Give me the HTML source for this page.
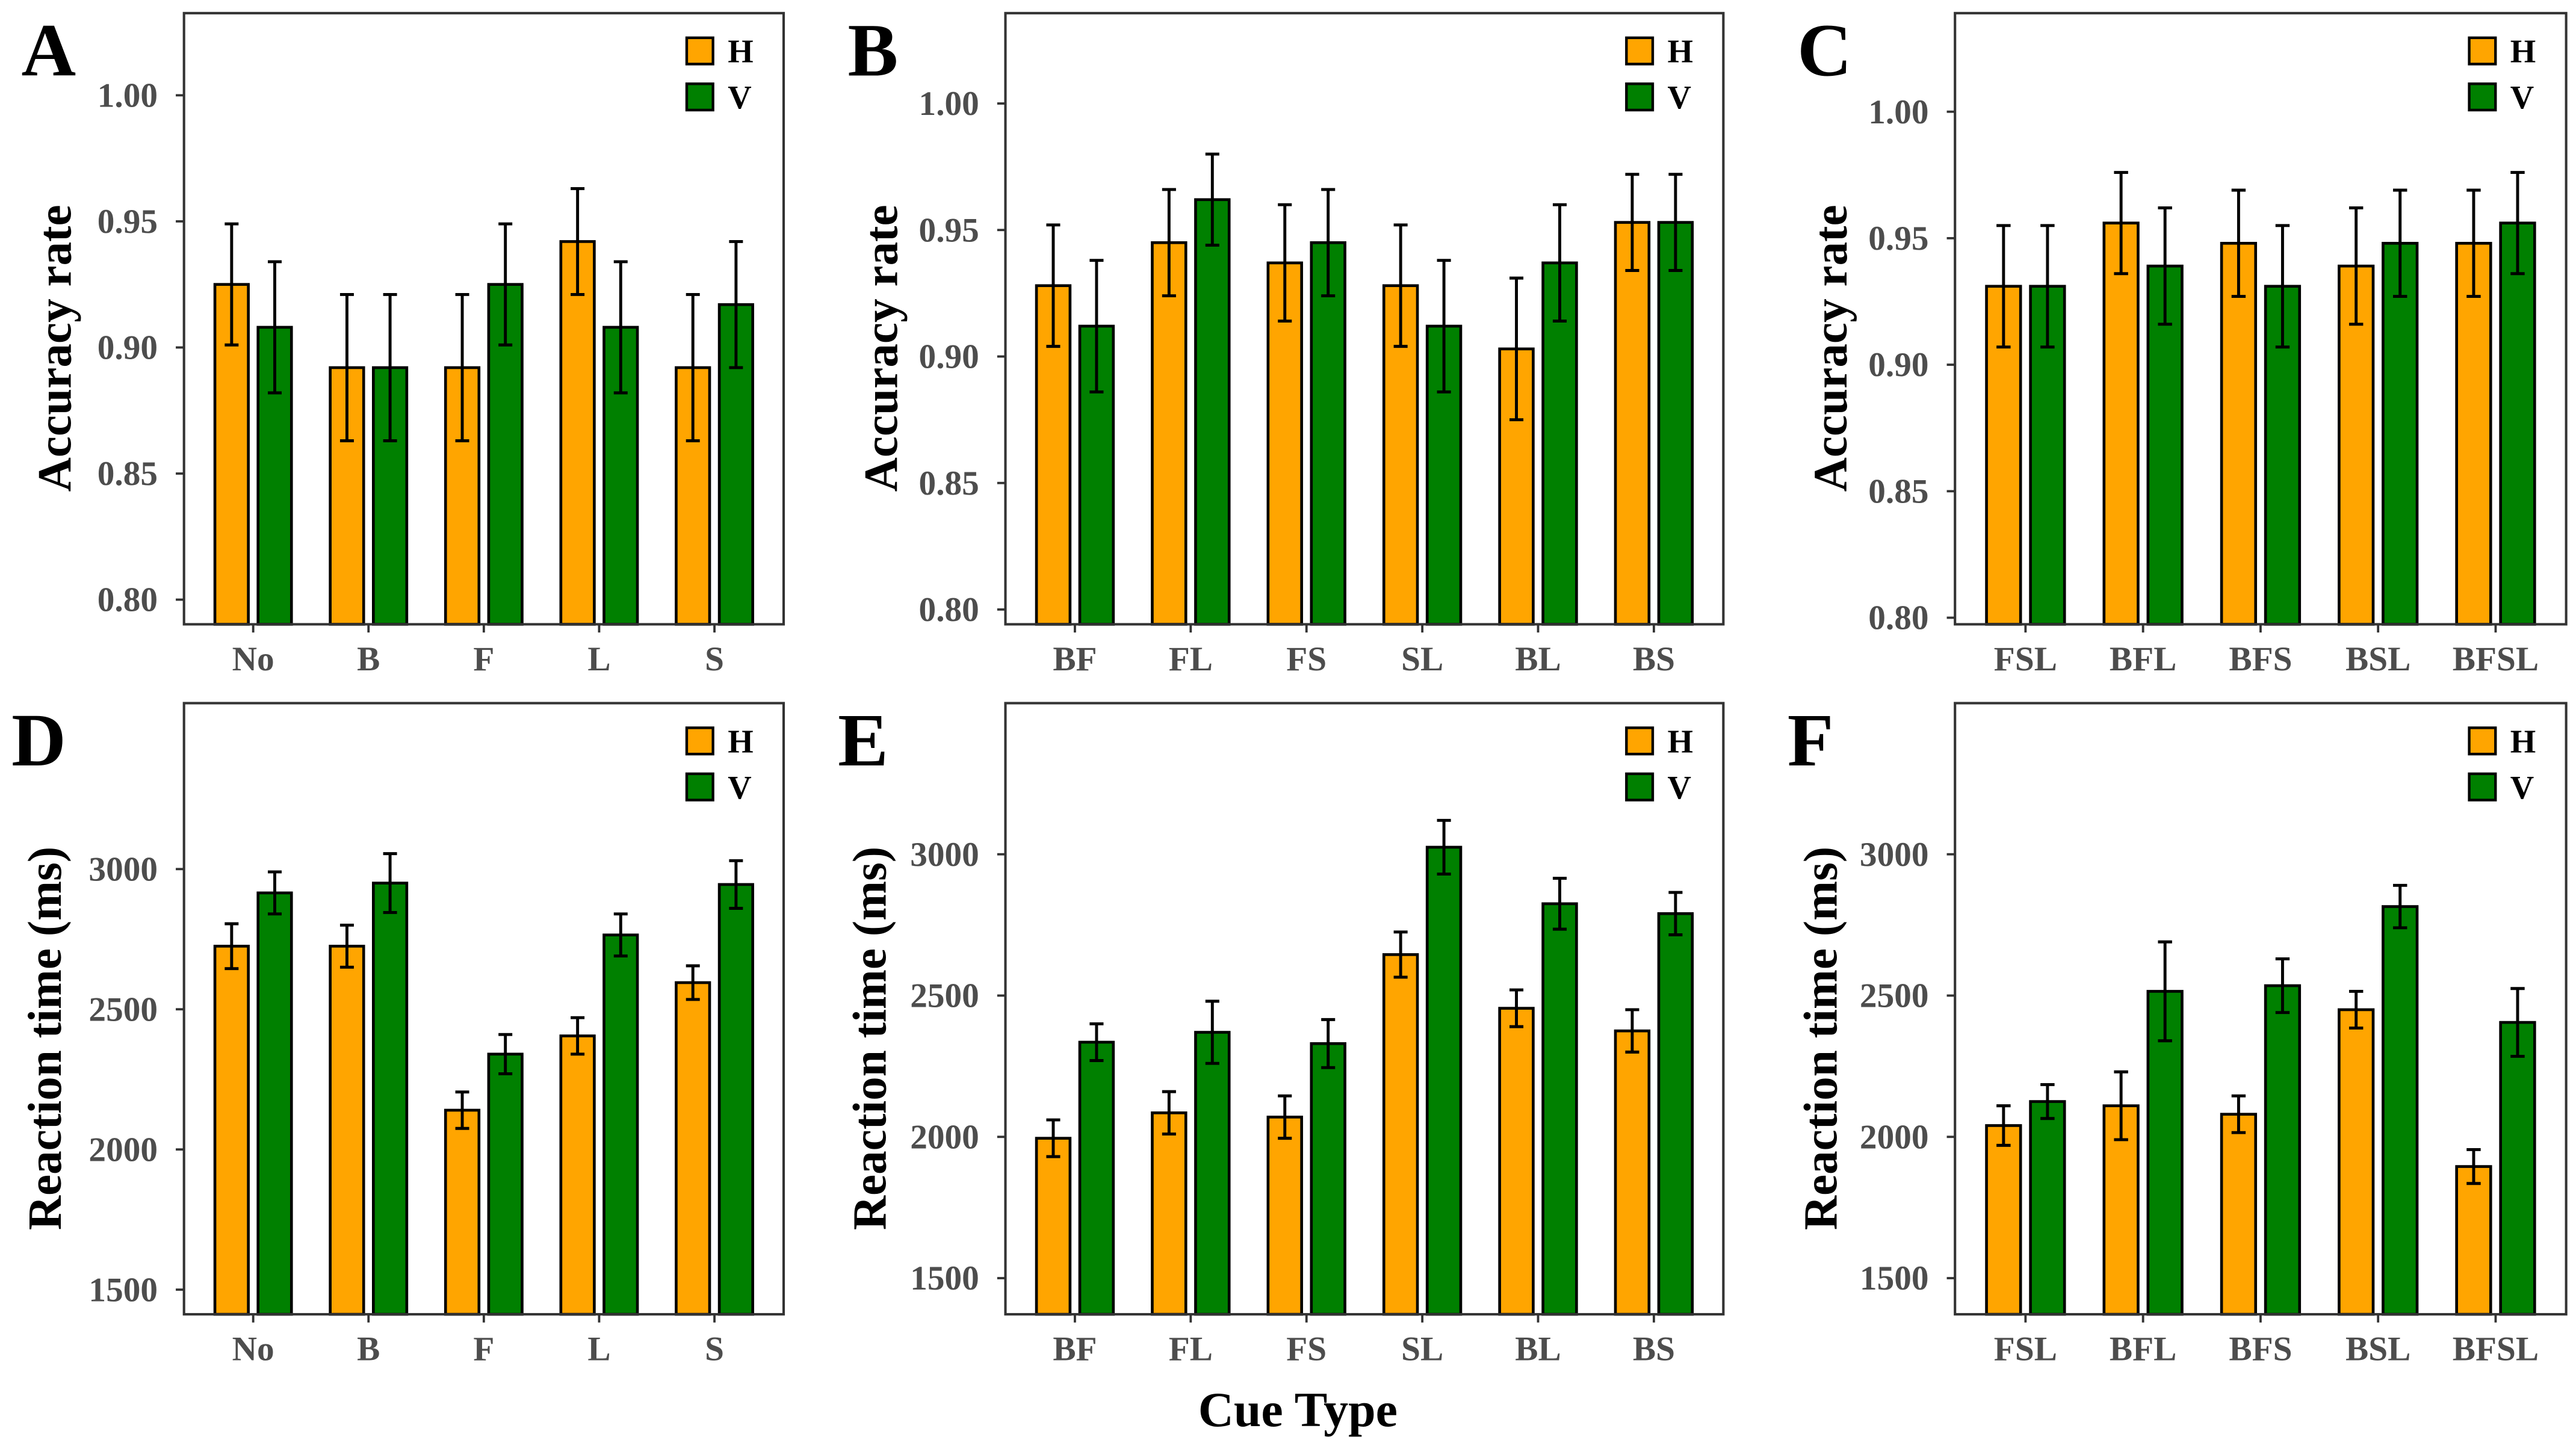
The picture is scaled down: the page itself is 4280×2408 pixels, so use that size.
<!DOCTYPE html>
<html><head><meta charset="utf-8"><style>
html,body{margin:0;padding:0;background:#fff}
svg{display:block}
text{font-family:"Liberation Serif",serif;font-weight:bold}
</style></head><body>
<svg id="fig" width="4280" height="2408" viewBox="0 0 1568 882" preserveAspectRatio="none" xmlns="http://www.w3.org/2000/svg">
<text x="790" y="868" text-anchor="middle" font-size="30" fill="#000">Cue Type</text>
</svg>
<script>
const catsA=["No","B","F","L","S"];
const hA=[0.925,0.892,0.892,0.942,0.892];
const vA=[0.908,0.892,0.925,0.908,0.917];
const heA=[0.024,0.029,0.029,0.021,0.029];
const veA=[0.026,0.029,0.024,0.026,0.025];
const catsB=["BF","FL","FS","SL","BL","BS"];
const hB=[0.928,0.945,0.937,0.928,0.903,0.953];
const vB=[0.912,0.962,0.945,0.912,0.937,0.953];
const heB=[0.024,0.021,0.023,0.024,0.028,0.019];
const veB=[0.026,0.018,0.021,0.026,0.023,0.019];
const catsC=["FSL","BFL","BFS","BSL","BFSL"];
const hC=[0.931,0.956,0.948,0.939,0.948];
const vC=[0.931,0.939,0.931,0.948,0.956];
const heC=[0.024,0.020,0.021,0.023,0.021];
const veC=[0.024,0.023,0.024,0.021,0.020];
const hD=[2725,2725,2140,2405,2595];
const vD=[2915,2950,2340,2765,2945];
const heD=[80,75,65,65,60];
const veD=[75,105,70,75,85];
const hE=[1995,2085,2070,2645,2455,2375];
const vE=[2335,2370,2330,3025,2825,2790];
const heE=[65,75,75,80,65,75];
const veE=[65,110,85,95,90,75];
const hF=[2040,2110,2080,2450,1895];
const vF=[2125,2515,2535,2815,2405];
const heF=[70,120,65,65,60];
const veF=[60,175,95,75,120];
const accTicks=[0.80,0.85,0.90,0.95,1.00];
const accLabels=["0.80","0.85","0.90","0.95","1.00"];
const rtTicks=[1500,2000,2500,3000];
const rtLabels=["1500","2000","2500","3000"];

const NS="http://www.w3.org/2000/svg";
const svg=document.getElementById('fig');
function mk(tag,attrs,parent){const e=document.createElementNS(NS,tag);for(const k in attrs)e.setAttribute(k,attrs[k]);(parent||svg).appendChild(e);return e;}

function panel(p){
  const g=mk('g',{});
  
  
  const n=p.cats.length;
  const unit=(p.x1-p.x0)/(n-1+1.2);
  const xs=i=>p.x0+(0.6+i)*unit;
  const ys=v=>p.yA+(v-p.vA)*(p.yB-p.yA)/(p.vB-p.vA);
  const bw=0.29*unit, off=0.187*unit, cap=0.06*unit;
  p.ticks.forEach((t,i)=>{
    const y=ys(t);
    const tk=mk('line',{x1:p.x0-5,x2:p.x0,y1:y,y2:y,stroke:'#333','stroke-width':1.4},g);
    
    
    const tl=mk('text',{x:p.x0-16,y:y+7,'text-anchor':'end','font-size':21,fill:'#4d4d4d'},g);
    tl.textContent=p.labels[i];
    
    
  });
  p.cats.forEach((c,i)=>{
    const x=xs(i);
    const tk=mk('line',{x1:x,x2:x,y1:p.y1,y2:p.y1+5,stroke:'#333','stroke-width':1.4},g);
    
    
    const tl=mk('text',{x:x,y:p.y1+28,'text-anchor':'middle','font-size':21,fill:'#4d4d4d'},g);
    tl.textContent=c;
    
    
  });
  const series=[[p.h,p.he,'#FFA500','h'],[p.v,p.ve,'#008000','v']];
  series.forEach((s,si)=>{
    s[0].forEach((val,i)=>{
      const cx=xs(i)+(si?off:-off);
      const yt=ys(val);
      const r=mk('rect',{x:cx-bw/2,y:yt,width:bw,height:p.y1-yt,fill:s[2],stroke:'#000','stroke-width':1.7},g);
      
      
      const e=s[1][i], ya=ys(val+e), yb=ys(val-e);
      const eb=mk('path',{d:`M${cx-cap},${ya}H${cx+cap}M${cx},${ya}V${yb}M${cx-cap},${yb}H${cx+cap}`,stroke:'#000','stroke-width':1.8,fill:'none'},g);
      
      
    });
  });
  const fr=mk('rect',{x:p.x0,y:p.y0,width:p.x1-p.x0,height:p.y1-p.y0,fill:'none',stroke:'#333','stroke-width':1.5},g);
  
  
  [['H','#FFA500'],['V','#008000']].forEach((l,i)=>{
    const ly=p.y0+15+i*28;
    const sq=mk('rect',{x:p.x1-59,y:ly,width:16,height:16,fill:l[1],stroke:'#000','stroke-width':1.6},g);
    
    
    const lt=mk('text',{x:p.x1-34,y:ly+15,'font-size':20,fill:'#000'},g);
    lt.textContent=l[0];
    
    
  });
  const yt=mk('text',{x:0,y:0,'text-anchor':'middle','font-size':29,fill:'#000',transform:`translate(${p.tx},${(p.y0+p.y1)/2+18}) rotate(-90)`},g);
  yt.textContent=p.title;
  
  
  const lt=mk('text',{x:p.lx,y:p.y0+38,'font-size':46,fill:'#000'},g);
  lt.textContent=p.letter;
  
  
}
const acc={ticks:accTicks,labels:accLabels,title:'Accuracy rate',vA:1.0,vB:0.8};
const rt={ticks:rtTicks,labels:rtLabels,title:'Reaction time (ms)',vA:3000,vB:1500};
panel(Object.assign({},acc,{letter:'A',x0:112,x1:477,y0:8,y1:380,yA:58,yB:365,cats:catsA,h:hA,v:vA,he:heA,ve:veA,tx:43,lx:13}));
panel(Object.assign({},acc,{letter:'B',x0:612,x1:1049,y0:8,y1:380,yA:63,yB:371,cats:catsB,h:hB,v:vB,he:heB,ve:veB,tx:546,lx:516}));
panel(Object.assign({},acc,{letter:'C',x0:1190,x1:1562,y0:8,y1:380,yA:68,yB:376,cats:catsC,h:hC,v:vC,he:heC,ve:veC,tx:1124,lx:1094}));
panel(Object.assign({},rt,{letter:'D',x0:112,x1:477,y0:428,y1:800,yA:529,yB:785,cats:catsA,h:hD,v:vD,he:heD,ve:veD,tx:37,lx:7}));
panel(Object.assign({},rt,{letter:'E',x0:612,x1:1049,y0:428,y1:800,yA:520,yB:778,cats:catsB,h:hE,v:vE,he:heE,ve:veE,tx:539,lx:510}));
panel(Object.assign({},rt,{letter:'F',x0:1190,x1:1562,y0:428,y1:800,yA:520,yB:778,cats:catsC,h:hF,v:vF,he:heF,ve:veF,tx:1118,lx:1088}));
</script>
</body></html>
